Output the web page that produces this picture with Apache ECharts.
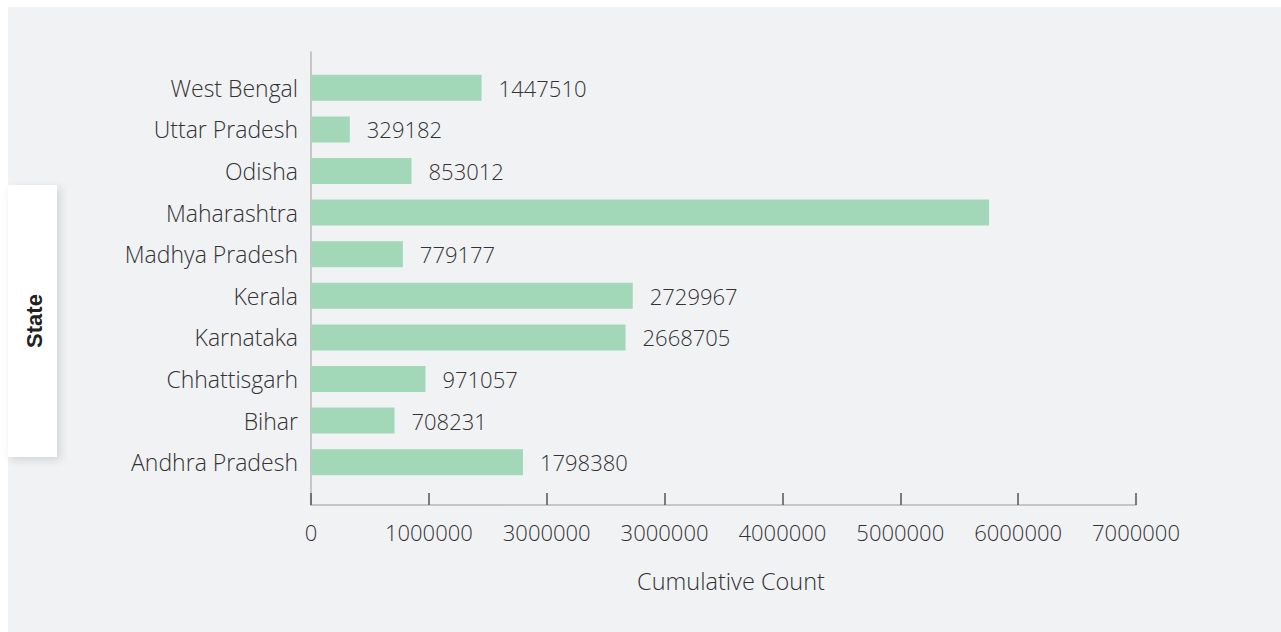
<!DOCTYPE html>
<html>
<head>
<meta charset="utf-8">
<title>Cumulative Count by State</title>
<script src="https://cdn.jsdelivr.net/npm/echarts@6/dist/echarts.min.js"></script>
<style>
  html, body { margin: 0; padding: 0; background: #ffffff; overflow: hidden; }
  #panel { position: absolute; left: 8px; top: 7px; right: 0; bottom: 0; background: #f1f2f4; }
  #chart { position: absolute; left: 0; top: 0; width: 1281px; height: 632px; }
</style>
</head>
<body>
<div id="panel"></div>
<div id="chart"></div>
<script>
// States, listed bottom to top
const states = [
  'Andhra Pradesh', 'Bihar', 'Chhattisgarh', 'Karnataka', 'Kerala',
  'Madhya Pradesh', 'Maharashtra', 'Odisha', 'Uttar Pradesh', 'West Bengal'
];
// Cumulative count per state
const counts = [
  1798380, 708231, 971057, 2668705, 2729967,
  779177, 5753000, 853012, 329182, 1447510
];
// States whose value label is left off
const unlabeled = ['Maharashtra'];
// Tick labels of the count axis, as printed
const tickLabels = ['0', '1000000', '3000000', '3000000', '4000000', '5000000', '6000000', '7000000'];

const FONT = '"Open Sans", "Liberation Sans", sans-serif';
const TEXT = '#333333';
const BAR = '#a2d7b8';

const chart = echarts.init(document.getElementById('chart'), null, { renderer: 'svg' });

chart.setOption({
  backgroundColor: 'transparent',
  animation: false,
  grid: [
    { left: 311, right: 145, top: 67, bottom: 149 },   // bars
    { left: 311, right: 145, top: 52, bottom: 127 }    // axis frame
  ],
  xAxis: [
    { gridIndex: 0, type: 'value', min: 0, max: 7000000, show: false },
    {
      gridIndex: 1, type: 'value', min: 0, max: 7000000, interval: 1000000,
      axisLine: { show: true, lineStyle: { color: '#b8b8b8', width: 1.5 } },
      axisTick: { show: true, inside: true, length: 12, lineStyle: { color: '#555555', width: 1.5 } },
      splitLine: { show: false },
      axisLabel: {
        margin: 16, fontSize: 22, fontFamily: FONT, fontWeight: 300, color: TEXT,
        formatter: (v) => tickLabels[Math.round(v / 1000000)]
      }
    }
  ],
  yAxis: [
    {
      gridIndex: 0, type: 'category', data: states,
      axisLine: { show: false }, axisTick: { show: false },
      axisLabel: { margin: 13, fontSize: 23, fontFamily: FONT, fontWeight: 300, color: TEXT }
    },
    {
      gridIndex: 1, type: 'value', min: 0, max: 1,
      axisLine: { show: true, lineStyle: { color: '#b8b8b8', width: 1.5 } },
      axisTick: { show: false }, axisLabel: { show: false }, splitLine: { show: false }
    }
  ],
  series: [{
    type: 'bar',
    xAxisIndex: 0, yAxisIndex: 0,
    barWidth: 26,
    itemStyle: { color: BAR },
    label: {
      show: true, position: 'right', distance: 17,
      fontSize: 22, fontFamily: FONT, fontWeight: 300, color: TEXT
    },
    data: counts.map((v, i) => ({
      value: v,
      label: { show: unlabeled.indexOf(states[i]) < 0 }
    }))
  }],
  graphic: [
    {
      type: 'rect', z: 10,
      shape: { x: 8, y: 185, width: 49, height: 272 },
      style: { fill: '#ffffff', shadowBlur: 8, shadowOffsetX: 3, shadowOffsetY: 3, shadowColor: 'rgba(0,0,0,0.13)' }
    },
    {
      type: 'text', z: 11, x: 34, y: 321, rotation: Math.PI / 2,
      style: {
        text: 'State', fontSize: 22, fontWeight: 'bold', fontFamily: '"Liberation Sans", Arial, sans-serif',
        fill: '#222222', textAlign: 'center', textVerticalAlign: 'middle'
      }
    },
    {
      type: 'text', x: 731, y: 581,
      style: {
        text: 'Cumulative Count', fontSize: 23.5, fontFamily: FONT, fontWeight: 300,
        fill: TEXT, textAlign: 'center', textVerticalAlign: 'middle'
      }
    }
  ]
});
</script>
</body>
</html>
